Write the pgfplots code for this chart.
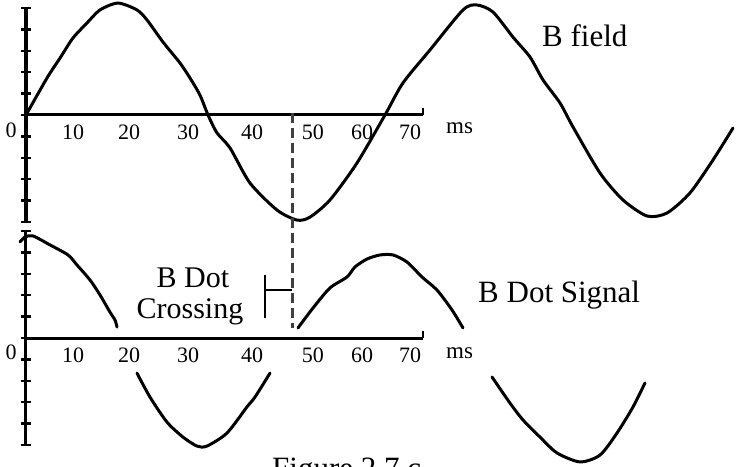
\documentclass[border=0pt]{standalone}
\usepackage{fontspec}
\setmainfont{Liberation Serif}
\usepackage{pgfplots}
\pgfplotsset{compat=1.18}

\pgfplotsset{
  traceaxis/.style={
    anchor=origin,
    x=5.486bp, y=21.4bp,
    xmin=0, xmax=72.4, ymin=-5, ymax=5,
    axis x line=middle, axis y line=left,
    axis line style={line width=3bp, -},
    x axis line style={-}, y axis line style={-},
    xtick={8.57,18.78,29.53,41.2,52.3,61.25,70},
    xticklabels={10,20,30,40,50,60,70},
    x tick style={draw=none},
    ytick={-5,...,5}, yticklabels={},
    y tick style={line width=2.5bp, black},
    major tick length=9bp,
    tick align=center,
    xticklabel style={anchor=north, inner sep=0pt, yshift=-5bp,
      font=\fontsize{22bp}{26bp}\selectfont},
    /pgf/number format/assume math mode=true,
    clip=false,
  },
  trace/.style={black, line width=3bp, line join=round, line cap=round,
    no marks, smooth, tension=0.45},
}

\begin{document}
\begin{tikzpicture}
\path[use as bounding box, clip] (-26bp,115bp) rectangle (710bp,-352bp);

% ---- B field ----
\begin{axis}[traceaxis, at={(0bp,0bp)}]
\addplot[trace] coordinates {
 (0,0) (3.83,1.73) (6.20,2.66) (8.57,3.60) (11.12,4.30) (13.49,4.91)
 (16.77,5.23) (20.23,4.91) (22.06,4.44) (24.97,3.41) (28.07,2.43)
 (29.89,1.73) (31.71,0.93) (33.18,0) (34.82,-0.84) (37.19,-1.54)
 (40.83,-3.18) (45.75,-4.44) (49.40,-4.91) (51.77,-4.77)
 (55.41,-3.97) (60.34,-2.24) (65.44,0) (68.72,1.50) (73.64,3.04)
 (79.66,4.91) (82.21,5.14) (85.13,4.81) (88.77,3.64) (91.87,2.71)
 (94.24,1.64) (97.34,0.56) (99.71,-0.56) (104.63,-2.71) (108.82,-3.97)
 (113.20,-4.72) (116.84,-4.58) (121.03,-3.64) (125.23,-2.10) (128.87,-0.61)
};
% crossing marker, carried down through the lower trace
\addplot[color=black!75, line width=3bp, dash pattern=on 10bp off 5bp, no marks]
  coordinates {(48.49,0.1) (48.49,-9.95)};
\draw[line width=2.5bp] (axis cs:72.4,0) -- (axis cs:72.4,0.35);
\end{axis}

% ---- B dot signal ----
\begin{axis}[traceaxis, at={(0bp,-223bp)}]
\addplot[trace] coordinates {
 (-1.09,4.49) (-0.18,4.72) (1.28,4.77) (4.37,4.35) (7.66,3.88) (9.30,3.41)
 (11.67,2.71) (13.49,2.01) (15.31,1.21) (16.22,0.84) (16.59,0.51)
};
\addplot[trace] coordinates {
 (20.23,-1.64) (22.60,-2.76) (25.70,-3.93) (28.62,-4.63) (31.17,-5.05)
 (32.99,-5.05) (36.64,-4.44) (40.28,-3.22) (41.74,-2.76) (44.48,-1.64)
};
\addplot[trace] coordinates {
 (49.58,0.47) (52.31,1.40) (55.41,2.34) (58.51,2.85) (59.97,3.32)
 (62.16,3.69) (64.53,3.88) (66.90,3.88) (69.45,3.55) (72.19,2.85)
 (74.92,2.24) (77.65,1.31) (79.66,0.47)
};
\addplot[trace] coordinates {
 (84.94,-1.82) (88.22,-3.04) (90.59,-3.83) (93.69,-4.63) (96.79,-5.37)
 (100.98,-5.79) (104.63,-5.47) (107.73,-4.44) (110.65,-3.22) (112.83,-2.10)
};
\draw[line width=2.5bp] (axis cs:72.4,0) -- (axis cs:72.4,0.35);
\end{axis}

% labels
\node[font=\fontsize{22bp}{26bp}\selectfont, inner sep=0pt] at (-15bp,-15bp) {0};
\node[font=\fontsize{22bp}{26bp}\selectfont, inner sep=0pt] at (-15bp,-237bp) {0};
\node[font=\fontsize{23bp}{26bp}\selectfont, inner sep=0pt, anchor=base west] at (420bp,-18bp) {ms};
\node[font=\fontsize{23bp}{26bp}\selectfont, inner sep=0pt, anchor=base west] at (420bp,-243bp) {ms};
\node[font=\fontsize{31bp}{34bp}\selectfont, inner sep=0pt, anchor=base west] at (516bp,68bp) {B field};
\node[font=\fontsize{31bp}{34bp}\selectfont, inner sep=0pt, anchor=base west] at (452bp,-187bp) {B Dot Signal};
\node[font=\fontsize{30bp}{31bp}\selectfont, inner sep=0pt, anchor=base] at (167bp,-172bp) {B Dot};
\node[font=\fontsize{30bp}{31bp}\selectfont, inner sep=0pt, anchor=base] at (164bp,-203bp) {Crossing};
\draw[line width=2.5bp] (239bp,-160bp) -- (239bp,-203bp);
\draw[line width=2.5bp] (239bp,-175bp) -- (266bp,-175bp);
\node[font=\fontsize{31bp}{34bp}\selectfont, inner sep=0pt, anchor=base west] at (246bp,-363bp) {Figure 2.7 c};
\end{tikzpicture}
\end{document}
